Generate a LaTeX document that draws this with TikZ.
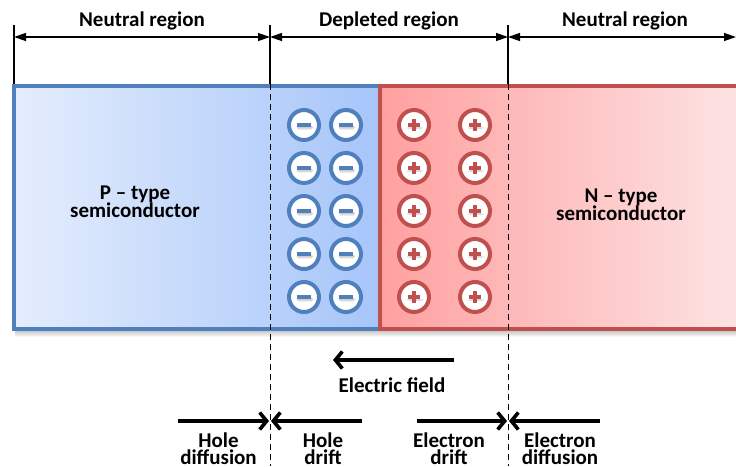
\documentclass[tikz,border=0pt]{standalone}
\usepackage{fontspec}
\setmainfont{Carlito}
\usetikzlibrary{arrows.meta}
\definecolor{pblue}{RGB}{79,128,189}
\definecolor{nred}{RGB}{192,80,77}
\definecolor{pleft}{RGB}{228,237,252}
\definecolor{pright}{RGB}{166,197,250}
\definecolor{nleft}{RGB}{255,160,160}
\definecolor{nright}{RGB}{253,228,229}
\newcommand{\lblfont}{\bfseries\fontsize{21}{17.5}\selectfont\lineskiplimit=-100pt\relax}
\tikzset{
  lbl/.style={font=\lblfont, align=center, inner sep=0pt, anchor=base},
  dimline/.style={line width=1.3pt, {Triangle[length=12pt,width=8pt]}-{Triangle[length=12pt,width=8pt]}},
  bound/.style={line width=1.1pt},
  sep/.style={line width=1pt, dash pattern=on 6pt off 4pt},
  flow/.style={line width=4.4pt, -{Straight Barb[length=7pt,width=17pt,line width=3.6pt]}},
  ion/.style={circle, minimum size=30pt, inner sep=0pt, line width=4pt, fill=white},
  anion/.style={ion, draw=pblue},
  cation/.style={ion, draw=nred},
}
% sign glyphs inside the ion circles, each with a soft grey shadow
\newcommand{\signshadow}[5]{%
  \foreach \g in {2.5,1.5,0.5} {
    \fill[black, opacity=0.07] ([shift={(#2-\g pt,#3+\g pt)}]#1) rectangle ([shift={(#4+\g pt,#5-\g pt)}]#1);
  }}
\newcommand{\minusmark}[1]{%
  \signshadow{#1}{-5.5pt}{-5pt}{7.5pt}{1pt}
  \fill[pblue] ([shift={(-7pt,-2pt)}]#1) rectangle ([shift={(7pt,2pt)}]#1);}
\newcommand{\plusmark}[1]{%
  \signshadow{#1}{-4.5pt}{-4pt}{6.5pt}{-1pt}
  \fill[nred] ([shift={(-6pt,-2pt)}]#1) rectangle ([shift={(6pt,2pt)}]#1);
  \fill[nred] ([shift={(-2pt,-6pt)}]#1) rectangle ([shift={(2pt,6pt)}]#1);}
\begin{document}
\begin{tikzpicture}[x=1pt, y=-1pt]
\clip (0,0) rectangle (736,466);
\fill[white] (0,0) rectangle (736,466);

% soft shadow beneath the two slabs
\foreach \d in {1,2,3,4,5,6} {
  \fill[black, opacity=0.035] (15,329) rectangle (740,331+\d);
}
% p-type slab
\shade[left color=pleft, right color=pright] (14,86) rectangle (380,329);
\draw[pblue, line width=4pt] (14,86) rectangle (380,329);
% n-type slab (runs past the right edge)
\shade[left color=nleft, right color=nright] (380,86) rectangle (745,329);
\draw[nred, line width=4pt] (745,86) -- (380,86) -- (380,329) -- (745,329);

% region boundaries
\coordinate (b0top) at (14,25);  \coordinate (b0bot) at (14,84);
\coordinate (b1top) at (270,25); \coordinate (b1bot) at (270,84); \coordinate (b1end) at (270,466);
\coordinate (b2top) at (508,25); \coordinate (b2bot) at (508,84); \coordinate (b2end) at (508,466);
\coordinate (b3) at (736,37);
\draw[bound] (b0top) -- (b0bot);
\draw[bound] (b1top) -- (b1bot);
\draw[bound] (b2top) -- (b2bot);
\draw[sep] (b1bot) -- (b1end);
\draw[sep] (b2bot) -- (b2end);

% region widths
\coordinate (d0) at (14,37); \coordinate (d1) at (270,37); \coordinate (d2) at (508,37);
\draw[dimline] (d0) -- (d1);
\draw[dimline] (d1) -- (d2);
\draw[dimline] (d2) -- (b3);
\node[lbl] (nl) at (142,26) {Neutral region};
\node[lbl] (dl) at (389,26) {Depleted region};
\node[lbl] (nr) at (625,26) {Neutral region};

% slab labels (base anchor sits on the last line)
\node[lbl] (ptype) at (135,217) {P – type\\semiconductor};
\node[lbl] (ntype) at (621,220) {N – type\\semiconductor};

% fixed charges in the depletion layer
\foreach \r [count=\i] in {125,168,211,254,297} {
  \node[anion] (a1\i) at (304,\r) {};
  \node[anion] (a2\i) at (346,\r) {};
  \node[cation] (c1\i) at (414,\r) {};
  \node[cation] (c2\i) at (475,\r) {};
  \minusmark{a1\i.center}
  \minusmark{a2\i.center}
  \plusmark{c1\i.center}
  \plusmark{c2\i.center}
}

% electric field
\coordinate (efs) at (454,360); \coordinate (efe) at (333,360);
\draw[flow] (efs) -- (efe);
\node[lbl] (ef) at (392,392) {Electric field};

% carrier flows
\coordinate (hd1) at (178,421); \coordinate (hd2) at (269,421);
\coordinate (hr1) at (362,421); \coordinate (hr2) at (271,421);
\coordinate (ed1) at (417,421); \coordinate (ed2) at (507,421);
\coordinate (er1) at (600,421); \coordinate (er2) at (509,421);
\draw[flow] (hd1) -- (hd2);
\draw[flow] (hr1) -- (hr2);
\draw[flow] (ed1) -- (ed2);
\draw[flow] (er1) -- (er2);
\node[lbl] (hdl) at (218.5,464.5) {Hole\\diffusion};
\node[lbl] (hrl) at (323,464.5) {Hole\\drift};
\node[lbl] (edl) at (449,464.5) {Electron\\drift};
\node[lbl] (erl) at (560,464.5) {Electron\\diffusion};
\end{tikzpicture}
\end{document}
